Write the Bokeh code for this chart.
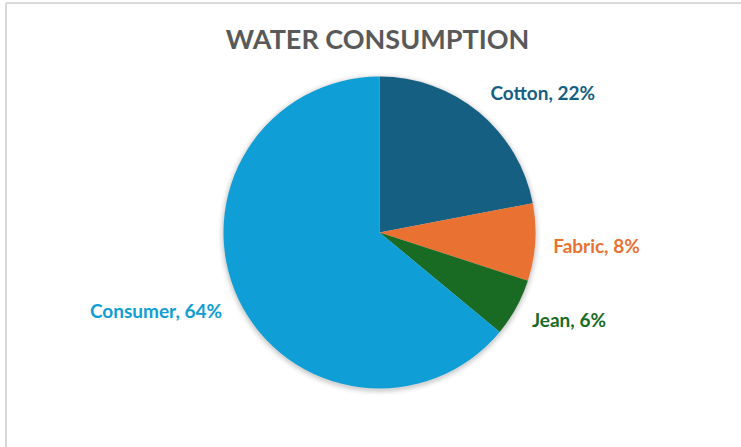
import math
from bokeh.plotting import figure
from bokeh.models import Range1d, ColumnDataSource
from bokeh.core.properties import value
from bokeh.embed import file_html
from bokeh.resources import INLINE

# ---- data ----
categories = ["Cotton", "Fabric", "Jean", "Consumer"]
shares = [22, 8, 6, 64]
colors = ["#156082", "#E97132", "#196B24", "#0F9ED5"]
title_text = "WATER CONSUMPTION"

# ---- layout (pixels) ----
W, H = 741, 447
CX, CY = 379, H - 232
R = 156
LABEL_R = 174
FONT = "Lato"

p = figure(width=W, height=H, x_range=Range1d(0, W), y_range=Range1d(0, H),
           output_backend="svg", toolbar_location=None, min_border=0)
p.axis.visible = False
p.grid.visible = False
p.outline_line_color = None
p.background_fill_color = "white"
p.border_fill_color = "white"

# chart area border (top and left visible)
p.segment(x0=[5.5, 5.5], y0=[H - 2.5, H - 2.5], x1=[W, 5.5], y1=[H - 2.5, 0],
          line_color="#d9d9d9", line_width=2)

# soft shadow
for i, a in enumerate([0.05, 0.04, 0.03, 0.02, 0.015]):
    p.circle(x=[CX], y=[CY - 1.5], radius=R + 1 + i * 1.2, fill_color="black",
             fill_alpha=a, line_color=None)

total = sum(shares)
starts, ends, mids = [], [], []
acc = 0.0
for s in shares:
    a0 = acc / total * 360.0
    acc += s
    a1 = acc / total * 360.0
    starts.append(math.radians(90 - a0))
    ends.append(math.radians(90 - a1))
    mids.append((a0 + a1) / 2.0)

src = ColumnDataSource(dict(cat=categories, share=shares, color=colors,
                            start=starts, end=ends))
p.wedge(x=CX, y=CY, radius=R, start_angle="start", end_angle="end",
        direction="clock", fill_color="color", line_color=None, source=src)

# labels
lx, ly, ltxt, lalign, lcol = [], [], [], [], []
for c, s, m, col in zip(categories, shares, mids, colors):
    th = math.radians(m)
    lx.append(CX + LABEL_R * math.sin(th))
    ly.append(CY + LABEL_R * math.cos(th))
    ltxt.append(f"{c}, {s}%")
    lalign.append("left" if m < 180 else "right")
    lcol.append(col)
y_offsets = [-6, 2, 3, 4]
lsrc = ColumnDataSource(dict(x=lx, y=ly, t=ltxt, a=lalign, c=lcol, yo=y_offsets))
p.text(x="x", y="y", text="t", text_align="a", text_baseline="middle",
       text_color="c", y_offset="yo", text_font=value(FONT), text_font_style="bold",
       text_font_size="19px", source=lsrc)

# title
p.text(x=[377], y=[H - 38], text=[title_text], text_align="center",
       text_baseline="middle", text_color="#595959", text_font=value(FONT),
       text_font_style="bold", text_font_size="27px")

open("out.html", "w").write(file_html(p, INLINE))
